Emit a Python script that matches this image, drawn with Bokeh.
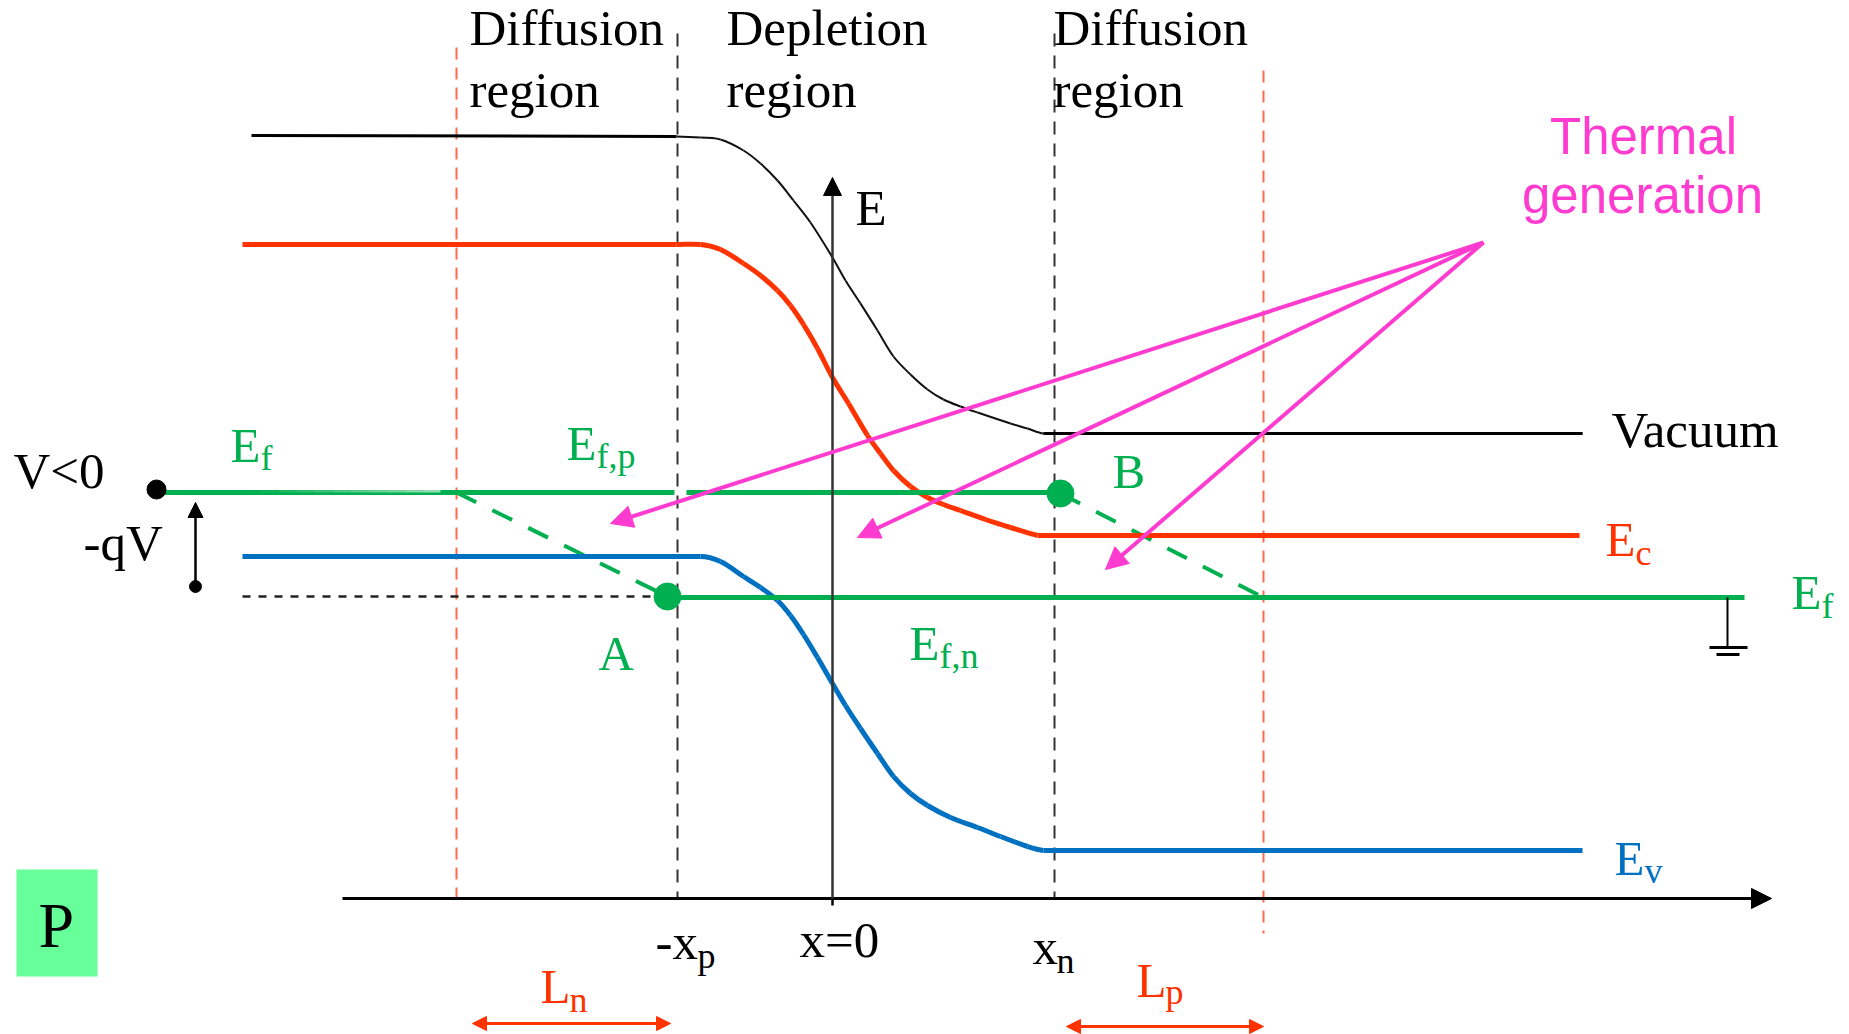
import math
from bokeh.plotting import figure
from bokeh.models import Range1d, Arrow, NormalHead
from bokeh.embed import file_html
from bokeh.resources import INLINE
from bokeh.core.properties import value

W, H = 1849, 1034

# ---------------- data (diagram units: x = position, y = energy drawn downwards) -------------
x_ln_edge = 456      # edge of electron diffusion length (p side)
x_minus_xp = 677     # -xp
x_zero = 832         # x = 0
x_xn = 1054          # xn
x_lp_edge = 1263     # edge of hole diffusion length (n side)

vacuum_x = [251, 676, 700, 720, 743, 760, 777, 793, 810, 832, 845, 860, 877, 893, 910, 927, 943, 960, 977, 1010, 1027, 1043, 1582]
vacuum_y = [135, 136, 137, 139, 150, 163, 180, 200, 222, 257, 280, 303, 330, 356, 374, 389, 399, 406, 412, 423, 428, 433, 433]

ec_x = [242, 676, 700, 720, 743, 760, 777, 790, 803, 817, 832, 848, 867, 880, 893, 910, 927, 943, 960, 985, 1010, 1037, 1579]
ec_y = [244, 244, 244, 249, 263, 275, 290, 305, 324, 348, 377, 403, 435, 453, 470, 486, 497, 504, 510, 519, 527, 535, 535]

ev_x = [242, 700, 720, 743, 760, 777, 790, 803, 817, 832, 845, 860, 877, 893, 910, 927, 950, 977, 1000, 1027, 1043, 1582]
ev_y = [556, 556, 561, 576, 587, 600, 615, 634, 657, 683, 705, 728, 753, 776, 793, 805, 817, 827, 836, 846, 850, 850]

ef_p_level = 492     # quasi Fermi level, p side (shifted by -qV)
ef_n_level = 597     # Fermi level, n side (ground)
ef_left_x = [156, 674]
efp_x = [686, 1060]
efn_x = [667, 1744]

point_A = (667, 596)
point_B = (1060, 493)
qv_dot = (195, 586)

thermal_src = (1483, 242)
thermal_targets_x = [610, 857, 1105]
thermal_targets_y = [523, 537, 569]

axis_x_start, axis_x_end, axis_y = 342, 1771, 898
e_axis_top = 177

GREEN = "#00B050"
RED = "#FF3300"
BLUE = "#0070C0"
MAG = "#FF3CCF"
SERIF = value("Liberation Serif")
SANS = value("Liberation Sans")

p = figure(width=W, height=H, x_range=Range1d(0, W), y_range=Range1d(H, 0),
           output_backend="svg", toolbar_location=None, min_border=0)
p.axis.visible = False
p.grid.visible = False
p.outline_line_color = None
p.background_fill_color = "white"
p.border_fill_color = "white"


def smooth_curve(xs, ys, color, width, t_start=(1.0, 0.0), t_end=(1.0, 0.0)):
    """Straight flat ends + smooth cubic Bezier pieces through the traced interior points."""
    # flat ends
    p.line(xs[:2], ys[:2], line_color=color, line_width=width)
    p.line(xs[-2:], ys[-2:], line_color=color, line_width=width)
    cx, cy = xs[1:-1], ys[1:-1]
    n = len(cx)
    tx, ty = [], []
    for i in range(n):
        if i == 0:
            dx, dy = t_start
        elif i == n - 1:
            dx, dy = t_end
        else:
            dx, dy = cx[i + 1] - cx[i - 1], cy[i + 1] - cy[i - 1]
        d = math.hypot(dx, dy) or 1.0
        tx.append(dx / d)
        ty.append(dy / d)
    x0, y0, x1, y1, c0x, c0y, c1x, c1y = [], [], [], [], [], [], [], []
    for i in range(n - 1):
        L = math.hypot(cx[i + 1] - cx[i], cy[i + 1] - cy[i]) / 3.0
        x0.append(cx[i]); y0.append(cy[i]); x1.append(cx[i + 1]); y1.append(cy[i + 1])
        c0x.append(cx[i] + tx[i] * L); c0y.append(cy[i] + ty[i] * L)
        c1x.append(cx[i + 1] - tx[i + 1] * L); c1y.append(cy[i + 1] - ty[i + 1] * L)
    p.bezier(x0=x0, y0=y0, x1=x1, y1=y1, cx0=c0x, cy0=c0y, cx1=c1x, cy1=c1y,
             line_color=color, line_width=width)


# vertical guide lines
p.segment(x0=[x_minus_xp, x_xn], y0=[33, 33], x1=[x_minus_xp, x_xn], y1=[axis_y, axis_y],
          line_color="#333333", line_width=2, line_dash="13 9")
p.segment(x0=[x_ln_edge, x_lp_edge], y0=[47, 70], x1=[x_ln_edge, x_lp_edge], y1=[907, 933],
          line_color="#FF4422", line_alpha=0.8, line_width=2, line_dash="12 8")

# dotted reference line and green dashed quasi-Fermi slopes
p.line([242, 655], [ef_n_level - 1, ef_n_level - 1], line_color="#222222", line_width=2.5, line_dash="8 8")
p.line([x_ln_edge, point_A[0]], [ef_p_level, point_A[1]], line_color=GREEN, line_width=4, line_dash="22 18")
p.line([point_B[0], x_lp_edge], [point_B[1], ef_n_level], line_color=GREEN, line_width=4, line_dash="22 18")

# bands
p.line(vacuum_x[:2], vacuum_y[:2], line_color="black", line_width=3)
smooth_curve(vacuum_x[1:], vacuum_y[1:], "#111111", 2, t_end=(1.0, 0.12))
p.line(vacuum_x[-2:], vacuum_y[-2:], line_color="black", line_width=3)
smooth_curve(ec_x, ec_y, RED, 5, t_end=(1.0, 0.25))
smooth_curve(ev_x, ev_y, BLUE, 5, t_end=(1.0, 0.1))

# Fermi levels
p.line(ef_left_x, [ef_p_level, ef_p_level], line_color=GREEN, line_width=5)
# faded part of the left Fermi level
n_seg = 10
fx0, fx1 = 260, 440
for i in range(n_seg):
    a = fx0 + (fx1 - fx0) * i / n_seg
    b = fx0 + (fx1 - fx0) * (i + 1) / n_seg
    p.line([a, b], [ef_p_level - 1.2, ef_p_level - 1.2], line_color="white",
           line_alpha=0.6 * (i + 1) / n_seg, line_width=2.4)
p.line(efp_x, [ef_p_level, ef_p_level], line_color=GREEN, line_width=5)
p.line(efn_x, [ef_n_level, ef_n_level], line_color=GREEN, line_width=5)

# axes
p.add_layout(Arrow(end=NormalHead(size=20, fill_color="black", line_color="black"),
                   x_start=axis_x_start, y_start=axis_y, x_end=axis_x_end, y_end=axis_y,
                   line_color="black", line_width=3))
p.add_layout(Arrow(end=NormalHead(size=18, fill_color="black", line_color="black"),
                   x_start=x_zero, y_start=axis_y, x_end=x_zero, y_end=e_axis_top,
                   line_color="#333333", line_width=2.5))
p.segment(x0=[x_zero], y0=[axis_y], x1=[x_zero], y1=[905], line_color="black", line_width=2.5)

# -qV arrow
p.add_layout(Arrow(end=NormalHead(size=15, fill_color="black", line_color="black"),
                   x_start=qv_dot[0], y_start=qv_dot[1], x_end=qv_dot[0], y_end=502,
                   line_color="black", line_width=2.5))
p.scatter([qv_dot[0]], [qv_dot[1]], size=12, color="black")
p.scatter([156], [489], size=19, color="black")

# ground symbol
p.segment(x0=[1727], y0=[ef_n_level], x1=[1727], y1=[647], line_color="black", line_width=2)
p.segment(x0=[1709, 1716], y0=[647, 654], x1=[1747, 1739], y1=[647, 654], line_color="black", line_width=3)

# points A and B
p.scatter([point_A[0], point_B[0]], [point_A[1], point_B[1]], size=27, color=GREEN)

# thermal generation arrows
for tx_, ty_ in zip(thermal_targets_x, thermal_targets_y):
    p.add_layout(Arrow(end=NormalHead(size=22, fill_color=MAG, line_color=MAG),
                       x_start=thermal_src[0], y_start=thermal_src[1], x_end=tx_, y_end=ty_,
                       line_color=MAG, line_width=4))

# diffusion length arrows
for xa, xb, yy in [(472, 670, 1023), (1066, 1263, 1026)]:
    p.add_layout(Arrow(start=NormalHead(size=14, fill_color=RED, line_color=RED),
                       end=NormalHead(size=14, fill_color=RED, line_color=RED),
                       x_start=xa, y_start=yy, x_end=xb, y_end=yy,
                       line_color=RED, line_width=3))

# P box
p.quad(left=[16], right=[97], top=[869], bottom=[976], fill_color="#66FF99", line_color=None)


def txt(x, y, s, size, color="black", font=SERIF, align="left"):
    # y is the baseline; compensate for renderer baseline offset
    p.text(x=[x], y=[y - 0.34 * size], text=[s], text_font=font, text_font_size=f"{size}px",
           text_color=color, text_align=align, text_baseline="alphabetic")


# black labels
for x, y, s in [(469, 45, "Diffusion"), (469, 107, "region"),
                (726, 45, "Depletion"), (726, 107, "region"),
                (1053, 45, "Diffusion"), (1053, 107, "region"),
                (1611, 447, "Vacuum"), (13, 488, "V<0"), (83, 560, "-qV"),
                (855, 225, "E"), (799, 957, "x=0"), (655, 959, "-x"), (1032, 964, "x")]:
    txt(x, y, s, 51)
txt(697, 968, "p", 36)
txt(1056, 973, "n", 36)
txt(38, 947, "P", 64)

# green labels
txt(230, 462, "E", 49, GREEN); txt(260, 470, "f", 36, GREEN)
txt(566, 460, "E", 49, GREEN); txt(596, 468, "f,p", 36, GREEN)
txt(909, 660, "E", 49, GREEN); txt(939, 668, "f,n", 36, GREEN)
txt(1791, 609, "E", 49, GREEN); txt(1821, 618, "f", 36, GREEN)
txt(1112, 488, "B", 49, GREEN)
txt(598, 670, "A", 49, GREEN)

# red labels
txt(1605, 556, "E", 49, RED); txt(1635, 565, "c", 36, RED)
txt(540, 1003, "L", 49, RED); txt(569, 1012, "n", 36, RED)
txt(1136, 997, "L", 49, RED); txt(1165, 1004, "p", 36, RED)

# blue label
txt(1614, 875, "E", 49, BLUE); txt(1644, 883, "v", 36, BLUE)

# thermal generation
txt(1643, 153, "Thermal", 51, MAG, SANS, "center")
txt(1642, 212, "generation", 51, MAG, SANS, "center")

open("out.html", "w").write(file_html(p, INLINE))
